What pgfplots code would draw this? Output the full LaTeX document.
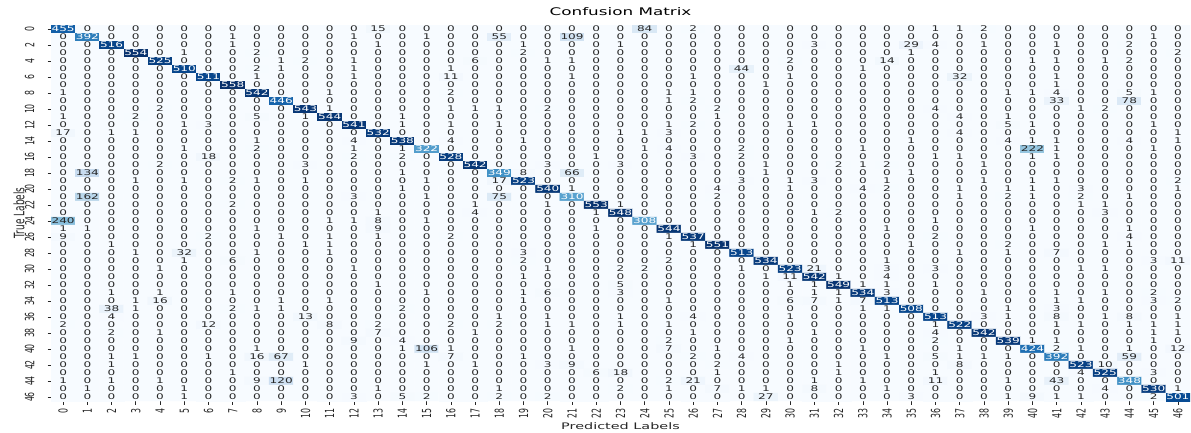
\documentclass[border=0pt]{standalone}
\usepackage{pgfplots}
\pgfplotsset{compat=1.18}
\usepackage{pgfplotstable}
\usepackage{graphicx}
\usepackage{fontspec}
\setmainfont{DejaVu Sans}
\definecolor{txt}{RGB}{38,38,38}
\pgfplotstableread[header=false,row sep=\\]{
455\\0\\0\\0\\0\\0\\0\\0\\0\\0\\ 0\\0\\0\\15\\0\\0\\0\\0\\0\\0\\ 0\\0\\0\\0\\84\\0\\2\\0\\0\\0\\ 0\\0\\0\\0\\0\\0\\1\\1\\2\\0\\ 0\\0\\0\\0\\0\\0\\0\\
0\\392\\0\\0\\0\\0\\0\\1\\0\\0\\ 0\\0\\1\\0\\0\\1\\0\\0\\55\\0\\ 0\\109\\0\\0\\0\\0\\0\\0\\0\\0\\ 0\\0\\0\\0\\0\\0\\0\\0\\0\\0\\ 0\\0\\0\\0\\0\\1\\0\\
0\\0\\516\\0\\0\\0\\0\\1\\0\\0\\ 0\\0\\0\\1\\0\\0\\0\\0\\0\\1\\ 0\\0\\0\\1\\0\\0\\0\\0\\0\\0\\ 0\\3\\0\\0\\0\\29\\4\\0\\1\\0\\ 0\\1\\0\\0\\2\\0\\0\\
0\\0\\0\\554\\0\\1\\0\\0\\2\\0\\ 0\\0\\0\\0\\0\\0\\0\\0\\0\\2\\ 0\\0\\0\\0\\0\\0\\0\\0\\0\\0\\ 0\\0\\0\\0\\0\\1\\0\\0\\0\\0\\ 0\\0\\0\\0\\0\\0\\2\\
0\\0\\0\\0\\525\\0\\0\\0\\0\\1\\ 2\\0\\1\\0\\0\\0\\0\\6\\0\\0\\ 1\\1\\0\\0\\0\\0\\0\\0\\0\\0\\ 2\\0\\0\\0\\14\\0\\0\\0\\0\\0\\ 1\\1\\0\\1\\2\\0\\0\\
0\\0\\0\\0\\0\\510\\0\\0\\2\\1\\ 0\\0\\1\\0\\0\\0\\1\\0\\0\\0\\ 0\\0\\0\\0\\0\\0\\0\\0\\44\\0\\ 0\\0\\0\\1\\0\\0\\0\\0\\0\\0\\ 0\\0\\0\\0\\0\\0\\0\\
0\\0\\0\\0\\0\\0\\511\\0\\1\\0\\ 0\\0\\1\\0\\0\\0\\11\\0\\0\\0\\ 0\\1\\0\\0\\0\\0\\1\\0\\0\\0\\ 1\\0\\0\\0\\0\\0\\0\\32\\0\\0\\ 0\\1\\0\\0\\0\\0\\0\\
0\\0\\0\\0\\0\\0\\0\\558\\0\\0\\ 0\\0\\0\\0\\0\\0\\0\\0\\0\\0\\ 0\\0\\0\\0\\0\\0\\0\\0\\0\\1\\ 0\\0\\0\\0\\0\\0\\0\\0\\0\\0\\ 0\\1\\0\\0\\0\\0\\0\\
1\\0\\0\\0\\0\\0\\0\\0\\542\\0\\ 0\\1\\0\\0\\0\\0\\2\\0\\0\\0\\ 0\\0\\0\\0\\0\\1\\1\\0\\0\\0\\ 0\\0\\0\\0\\0\\0\\0\\0\\0\\1\\ 1\\4\\0\\0\\5\\1\\0\\
0\\0\\0\\0\\0\\0\\0\\0\\0\\446\\ 0\\0\\0\\0\\0\\0\\0\\0\\0\\0\\ 0\\0\\0\\0\\0\\1\\2\\0\\0\\0\\ 0\\0\\0\\0\\0\\0\\0\\0\\0\\0\\ 0\\33\\0\\0\\78\\0\\0\\
0\\0\\0\\0\\2\\0\\0\\0\\0\\0\\ 543\\1\\0\\0\\0\\0\\1\\1\\1\\0\\ 2\\0\\0\\0\\0\\0\\0\\2\\0\\0\\ 0\\0\\0\\0\\0\\0\\4\\0\\0\\0\\ 0\\0\\1\\2\\0\\0\\0\\
1\\0\\0\\2\\0\\0\\0\\0\\5\\0\\ 1\\544\\0\\0\\1\\0\\0\\0\\0\\0\\ 0\\0\\0\\0\\0\\0\\0\\1\\0\\0\\ 0\\0\\0\\0\\0\\0\\0\\4\\0\\1\\ 0\\0\\0\\0\\0\\0\\0\\
0\\0\\0\\0\\0\\1\\3\\0\\0\\0\\ 0\\0\\541\\0\\1\\0\\1\\0\\1\\0\\ 0\\0\\0\\0\\0\\1\\2\\0\\0\\0\\ 1\\1\\0\\0\\0\\0\\0\\0\\0\\5\\ 1\\0\\0\\0\\0\\1\\0\\
17\\0\\1\\1\\0\\0\\0\\0\\0\\0\\ 0\\0\\0\\532\\0\\0\\0\\0\\0\\0\\ 0\\0\\0\\1\\1\\3\\0\\0\\0\\0\\ 0\\0\\0\\0\\0\\0\\0\\4\\0\\0\\ 0\\0\\0\\0\\0\\0\\1\\
0\\0\\0\\0\\0\\0\\0\\0\\1\\0\\ 0\\0\\4\\0\\538\\0\\4\\0\\0\\1\\ 0\\0\\0\\0\\0\\0\\0\\0\\0\\0\\ 0\\0\\0\\0\\0\\1\\0\\0\\0\\4\\ 1\\1\\0\\0\\4\\0\\1\\
0\\0\\0\\0\\0\\1\\0\\0\\2\\0\\ 0\\0\\1\\0\\1\\322\\0\\0\\0\\0\\ 0\\0\\0\\0\\1\\4\\0\\0\\2\\0\\ 0\\0\\0\\1\\0\\0\\0\\0\\0\\0\\ 222\\1\\0\\0\\0\\1\\0\\
0\\0\\0\\0\\0\\0\\18\\0\\0\\0\\ 0\\0\\2\\0\\2\\0\\528\\0\\0\\0\\ 0\\0\\1\\0\\0\\0\\3\\0\\2\\0\\ 0\\0\\0\\0\\0\\0\\1\\1\\0\\0\\ 1\\1\\0\\0\\0\\0\\0\\
0\\0\\0\\0\\2\\0\\0\\0\\0\\0\\ 3\\0\\0\\0\\0\\0\\0\\542\\0\\0\\ 3\\0\\0\\3\\0\\0\\0\\0\\0\\1\\ 0\\0\\2\\1\\2\\0\\0\\0\\1\\0\\ 0\\0\\0\\0\\0\\0\\0\\
0\\134\\0\\0\\0\\0\\0\\0\\0\\0\\ 0\\0\\0\\0\\1\\0\\0\\0\\349\\8\\ 0\\66\\0\\0\\0\\0\\0\\0\\0\\1\\ 0\\0\\0\\0\\0\\1\\0\\0\\0\\0\\ 0\\0\\0\\0\\0\\0\\0\\
0\\0\\0\\1\\0\\1\\0\\2\\1\\0\\ 1\\0\\0\\0\\0\\1\\0\\0\\17\\523\\ 0\\0\\0\\0\\0\\0\\0\\0\\3\\0\\ 1\\3\\0\\0\\1\\0\\0\\0\\1\\0\\ 1\\1\\0\\0\\0\\0\\2\\
0\\0\\0\\0\\0\\0\\0\\0\\0\\0\\ 0\\0\\0\\0\\1\\0\\0\\0\\0\\0\\ 540\\1\\0\\0\\0\\0\\0\\4\\0\\0\\ 1\\0\\0\\4\\2\\0\\0\\1\\0\\1\\ 1\\0\\3\\0\\0\\0\\1\\
0\\162\\0\\0\\0\\0\\0\\0\\0\\0\\ 0\\0\\3\\0\\0\\1\\0\\0\\75\\0\\ 0\\310\\0\\0\\0\\0\\0\\2\\0\\0\\ 0\\0\\0\\0\\0\\0\\0\\1\\0\\2\\ 1\\0\\2\\0\\1\\0\\0\\
0\\0\\0\\0\\0\\0\\0\\2\\0\\0\\ 0\\0\\0\\0\\0\\0\\0\\1\\0\\0\\ 1\\0\\553\\1\\0\\0\\0\\0\\0\\0\\ 0\\0\\0\\0\\0\\0\\0\\0\\0\\0\\ 0\\0\\1\\1\\0\\0\\0\\
0\\0\\0\\0\\0\\0\\0\\0\\0\\0\\ 0\\0\\0\\1\\0\\0\\0\\4\\0\\0\\ 0\\0\\1\\548\\0\\0\\0\\0\\0\\0\\ 0\\1\\2\\0\\0\\0\\0\\0\\0\\0\\ 0\\0\\0\\3\\0\\0\\0\\
240\\0\\0\\0\\0\\0\\0\\0\\0\\0\\ 0\\1\\1\\8\\0\\1\\0\\0\\0\\0\\ 0\\0\\0\\0\\308\\0\\0\\0\\0\\0\\ 0\\0\\0\\0\\0\\0\\1\\0\\0\\0\\ 0\\0\\0\\0\\0\\0\\0\\
1\\1\\0\\0\\0\\0\\0\\0\\1\\0\\ 0\\0\\0\\9\\0\\0\\0\\0\\0\\0\\ 0\\0\\1\\0\\0\\544\\0\\0\\0\\0\\ 0\\0\\0\\0\\1\\0\\0\\0\\0\\0\\ 1\\0\\0\\0\\1\\0\\0\\
9\\0\\0\\0\\0\\0\\2\\0\\0\\1\\ 0\\1\\0\\1\\0\\0\\2\\0\\0\\0\\ 0\\0\\0\\0\\0\\1\\537\\0\\0\\0\\ 0\\0\\0\\0\\0\\0\\2\\0\\0\\0\\ 0\\0\\0\\0\\4\\0\\0\\
0\\0\\1\\0\\0\\0\\0\\0\\0\\0\\ 1\\1\\0\\0\\0\\0\\0\\0\\0\\0\\ 0\\0\\0\\0\\0\\0\\1\\551\\0\\0\\ 0\\0\\0\\0\\0\\1\\0\\0\\0\\2\\ 0\\0\\0\\1\\1\\0\\0\\
0\\0\\0\\1\\0\\32\\0\\0\\1\\0\\ 0\\1\\0\\0\\0\\0\\0\\0\\0\\3\\ 0\\0\\0\\0\\0\\0\\0\\0\\513\\0\\ 0\\0\\0\\0\\0\\0\\0\\1\\0\\1\\ 0\\7\\0\\0\\0\\0\\0\\
0\\0\\0\\0\\0\\1\\0\\6\\0\\0\\ 0\\0\\0\\0\\0\\0\\0\\0\\0\\2\\ 0\\0\\0\\0\\0\\2\\0\\0\\0\\534\\ 0\\0\\0\\0\\1\\0\\0\\0\\0\\0\\ 0\\0\\0\\0\\0\\3\\11\\
0\\0\\0\\0\\1\\0\\0\\0\\0\\0\\ 0\\0\\1\\0\\0\\0\\0\\0\\0\\0\\ 1\\0\\0\\2\\2\\0\\0\\0\\1\\0\\ 523\\21\\0\\0\\3\\0\\3\\0\\0\\0\\ 0\\0\\1\\1\\0\\0\\0\\
0\\0\\0\\0\\0\\0\\0\\0\\0\\0\\ 0\\0\\0\\0\\0\\0\\0\\0\\0\\1\\ 0\\0\\0\\0\\0\\0\\0\\0\\0\\1\\ 11\\542\\1\\0\\4\\0\\0\\0\\0\\0\\ 0\\0\\0\\0\\0\\0\\0\\
0\\0\\0\\0\\0\\0\\0\\0\\0\\0\\ 0\\0\\0\\1\\0\\0\\0\\0\\0\\0\\ 0\\0\\0\\5\\0\\0\\0\\0\\0\\0\\ 1\\1\\549\\1\\1\\0\\1\\0\\0\\0\\ 0\\0\\0\\0\\0\\0\\0\\
0\\0\\1\\0\\1\\0\\0\\1\\0\\0\\ 0\\0\\0\\0\\0\\1\\0\\0\\0\\1\\ 6\\0\\0\\3\\0\\0\\0\\0\\0\\0\\ 0\\1\\1\\534\\3\\0\\0\\0\\1\\0\\ 0\\1\\0\\1\\0\\2\\0\\
0\\0\\0\\1\\16\\0\\0\\0\\0\\1\\ 0\\1\\0\\0\\0\\0\\0\\0\\0\\1\\ 0\\0\\0\\0\\0\\1\\0\\0\\0\\0\\ 6\\7\\1\\7\\513\\0\\0\\0\\0\\0\\ 0\\1\\1\\0\\0\\3\\2\\
0\\0\\38\\1\\0\\0\\0\\2\\1\\1\\ 0\\0\\0\\0\\2\\0\\0\\0\\0\\0\\ 0\\0\\0\\0\\0\\0\\0\\0\\0\\0\\ 0\\0\\0\\1\\1\\508\\0\\0\\0\\1\\ 0\\3\\0\\0\\0\\0\\0\\
0\\0\\4\\0\\0\\0\\0\\0\\0\\0\\ 13\\0\\0\\0\\0\\0\\0\\0\\1\\0\\ 1\\0\\0\\1\\0\\0\\4\\0\\0\\0\\ 1\\0\\0\\0\\0\\0\\513\\0\\3\\1\\ 0\\8\\0\\1\\8\\0\\1\\
2\\0\\0\\0\\0\\0\\12\\0\\0\\0\\ 0\\8\\0\\2\\0\\0\\2\\0\\2\\0\\ 1\\1\\0\\1\\0\\1\\0\\0\\0\\0\\ 0\\0\\0\\0\\0\\0\\1\\522\\0\\0\\ 0\\1\\1\\0\\1\\1\\1\\
0\\0\\2\\0\\1\\0\\0\\0\\0\\0\\ 0\\0\\0\\7\\0\\0\\0\\1\\0\\0\\ 0\\0\\0\\0\\0\\0\\1\\0\\0\\0\\ 0\\1\\0\\0\\0\\0\\4\\0\\542\\0\\ 0\\0\\0\\0\\0\\1\\1\\
0\\0\\0\\0\\0\\0\\0\\0\\0\\0\\ 0\\0\\9\\0\\4\\0\\0\\0\\0\\0\\ 0\\0\\0\\0\\0\\2\\0\\0\\0\\0\\ 1\\0\\0\\0\\0\\0\\2\\0\\0\\539\\ 1\\1\\0\\0\\0\\1\\0\\
0\\0\\0\\0\\0\\0\\0\\0\\1\\0\\ 0\\0\\0\\0\\1\\106\\1\\0\\0\\0\\ 0\\1\\0\\0\\0\\7\\0\\1\\0\\0\\ 0\\0\\0\\1\\0\\0\\0\\1\\0\\0\\ 424\\2\\1\\0\\1\\0\\12\\
0\\0\\1\\1\\0\\0\\1\\0\\16\\67\\ 0\\0\\0\\0\\0\\0\\7\\0\\0\\1\\ 0\\0\\0\\0\\0\\0\\2\\0\\4\\0\\ 0\\0\\0\\0\\1\\0\\5\\1\\1\\1\\ 0\\392\\0\\0\\59\\0\\0\\
0\\0\\1\\0\\0\\0\\0\\0\\0\\0\\ 1\\0\\0\\0\\0\\1\\0\\1\\0\\0\\ 3\\9\\0\\0\\0\\0\\0\\2\\0\\0\\ 0\\0\\1\\0\\0\\0\\0\\8\\0\\0\\ 0\\0\\523\\10\\0\\0\\0\\
0\\0\\0\\0\\0\\0\\0\\1\\0\\0\\ 0\\0\\0\\0\\0\\0\\0\\0\\0\\0\\ 0\\0\\6\\18\\0\\0\\0\\1\\0\\0\\ 0\\0\\1\\0\\0\\0\\1\\0\\0\\0\\ 0\\0\\4\\525\\0\\3\\0\\
1\\0\\1\\0\\1\\0\\0\\0\\9\\120\\ 0\\0\\0\\0\\0\\0\\0\\0\\0\\0\\ 0\\0\\0\\0\\0\\2\\21\\0\\0\\0\\ 0\\1\\0\\1\\0\\0\\11\\0\\0\\1\\ 0\\43\\0\\0\\348\\0\\0\\
0\\1\\0\\0\\0\\1\\0\\0\\0\\0\\ 0\\0\\0\\1\\0\\0\\0\\0\\1\\0\\ 0\\0\\0\\2\\0\\1\\0\\7\\1\\1\\ 0\\8\\0\\0\\1\\0\\0\\0\\0\\0\\ 0\\0\\0\\4\\0\\530\\1\\
0\\0\\0\\0\\0\\1\\0\\0\\0\\0\\ 0\\0\\3\\0\\5\\2\\0\\0\\2\\0\\ 2\\0\\0\\0\\0\\0\\0\\0\\0\\27\\ 0\\0\\0\\0\\0\\3\\0\\0\\0\\1\\ 9\\1\\1\\0\\0\\2\\501\\
}\cm
\pgfplotstablecreatecol[create col/expr={mod(\pgfplotstablerow,47)}]{cx}{\cm}
\pgfplotstablecreatecol[create col/expr={floor((\pgfplotstablerow+0.5)/47)}]{cy}{\cm}
\begin{document}
\begin{tikzpicture}
\useasboundingbox (0,0) rectangle (1191pt,-433pt);
\begin{axis}[
  at={(51pt,-25pt)}, anchor=north west,
  scale only axis, width=1139pt, height=376pt,
  xmin=-0.5, xmax=46.5, ymin=-0.5, ymax=46.5, y dir=reverse,
  enlargelimits=false,
  colormap={blues}{rgb255=(247,251,255) rgb255=(222,235,247) rgb255=(198,219,239) rgb255=(158,202,225) rgb255=(107,174,214) rgb255=(66,146,198) rgb255=(33,113,181) rgb255=(8,81,156) rgb255=(8,48,107)},
  point meta min=0, point meta max=558,
  axis line style={draw=none},
  tick pos=left, tick align=outside, major tick length=3.5pt,
  tick style={txt, line width=0.7pt},
  xtick={0,...,46}, ytick={0,2,...,46},
  /pgf/number format/assume math mode=true,
  xticklabel={\scalebox{1.6}[1]{\rotatebox{90}{\pgfmathprintnumber{\tick}}}},
  yticklabel={\scalebox{1.6}[1]{\rotatebox{90}{\pgfmathprintnumber{\tick}}}},
  ticklabel style={font=\fontsize{7.8}{8}\selectfont, text=txt, inner sep=0pt},
  xticklabel style={yshift=-4pt},
  yticklabel style={xshift=-13pt},
  xlabel={\scalebox{1.6}[1]{Predicted Labels}},
  xlabel style={font=\fontsize{9}{9}\selectfont, text=txt, inner sep=0pt, yshift=-4pt},
  ylabel={\scalebox{1.6}[1]{\rotatebox{90}{True Labels}}},
  ylabel style={rotate=-90, font=\fontsize{9}{9}\selectfont, text=txt, inner sep=0pt},
  title={\scalebox{1.6}[1]{Confusion Matrix}},
  title style={font=\fontsize{10.5}{11}\selectfont, text=black, at={(0.5,1)}, anchor=south, yshift=3pt, inner sep=0pt},
]
\addplot[matrix plot*, mesh/cols=47, mesh/rows=47, point meta=explicit]
  table[x=cx, y=cy, meta index=0] {\cm};
\addplot[only marks, mark=none, point meta=explicit symbolic,
  nodes near coords={\ifnum\pgfplotspointmeta>265 \color{white}\fi\scalebox{1.55}[1]{\pgfplotspointmeta}},
  nodes near coords align={center},
  every node near coord/.append style={font=\fontsize{7.8}{8}\selectfont, text=txt, inner sep=0pt, anchor=center}]
  table[x=cx, y=cy, meta index=0] {\cm};
\end{axis}
\end{tikzpicture}
\end{document}
